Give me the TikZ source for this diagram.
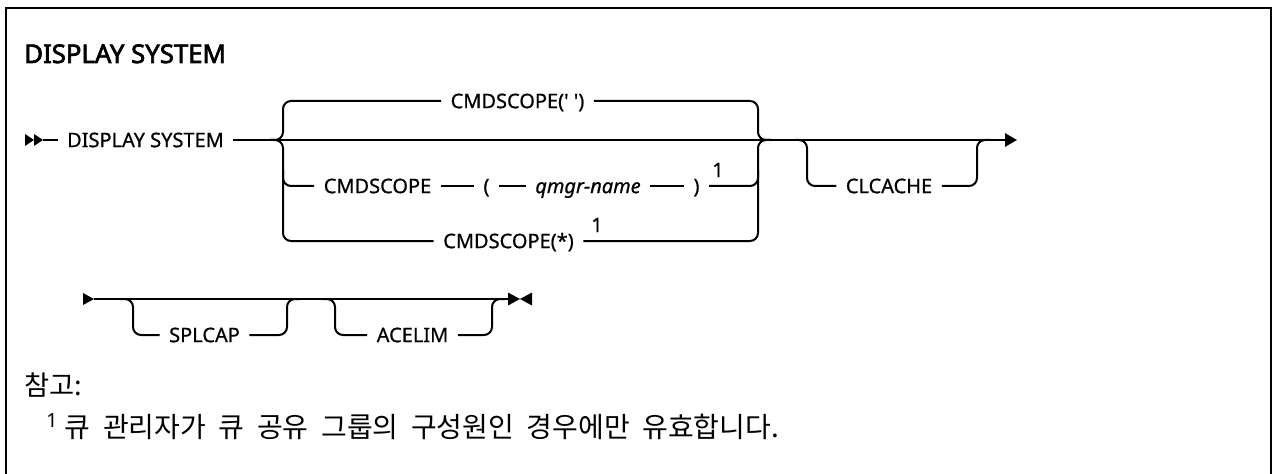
\documentclass[tikz,border=0pt]{standalone}
\usepackage{fontspec}
\setmainfont{Noto Sans}
\newfontfamily\titlefont{Noto Sans}[FakeBold=2.6]
\newfontfamily\railfont{Noto Sans}[FakeBold=0.7]
\newfontfamily\kr{Noto Sans CJK KR}
\usetikzlibrary{arrows.meta}
\begin{document}
\begin{tikzpicture}[x=0.75pt,y=-0.75pt,
  rail/.style={line width=1.5pt,rounded corners=6pt},
  kw/.style={inner xsep=7pt,inner ysep=0pt,text height=10.7pt,text depth=0pt,font=\fontsize{15}{18}\railfont},
  var/.style={kw,font=\fontsize{15}{18}\railfont\itshape},
  supn/.style={inner sep=0pt,font=\fontsize{15}{18}\railfont},
  tip/.style={fill=black}]
\useasboundingbox (0,0) rectangle (1274,474);
% frame
\draw[line width=2pt] (6,480) -- (6,8) -- (1271,8) -- (1271,480);
% title
\node[anchor=base west,inner sep=0pt,font=\fontsize{19.3}{23}\titlefont] (title) at (24,63) {DISPLAY SYSTEM};

% ---------- first line ----------
\coordinate (s0) at (43,140);
\fill[tip] (25,134) -- (34,140) -- (25,146) -- cycle;
\fill[tip] (34,134) -- (43,140) -- (34,146) -- cycle;
\node[kw] (ds) at (145.5,140) {DISPLAY SYSTEM};
\coordinate (e1) at (1017,140);
\draw[rail] (s0) -- (ds.west);
\draw[line width=1.5pt,-{Triangle[length=9pt,width=10pt]}] (ds.east) -- (e1);

% choice group
\node[kw] (t1) at (517.5,101) {CMDSCOPE(' ')};
\node[kw] (c2) at (377.5,186) {CMDSCOPE};
\node[kw] (lp) at (486.5,186) {(};
\node[var] (qm) at (588,186) {qmgr-name};
\node[kw] (rp) at (696.5,186) {)};
\node[supn] (n1) at (718,170) {1};
\node[kw] (c3) at (508.5,241) {CMDSCOPE(*)};
\node[supn] (n2) at (597,225) {1};

\coordinate (jL) at (283,140);
\coordinate (jR) at (758,140);
\draw[rail] (270,140) -- (jL) -- (283,101) -- (t1.west);
\draw[rail] (t1.east) -- (758,101) -- (jR) -- (771,140);
\draw[rail] (270,140) -- (jL) -- (283,241) -- (c3.west);
\draw[rail] (c3.east) -- (758,241) -- (jR) -- (771,140);
\draw[rail] (283,170) -- (283,186) -- (c2.west);
\draw[rail] (c2.east) -- (lp.west);
\draw[rail] (lp.east) -- (qm.west);
\draw[rail] (qm.east) -- (rp.west);
\draw[rail] (rp.east) -- (758,186) -- (758,170);

% CLCACHE
\node[kw] (cl) at (889,186) {CLCACHE};
\draw[rail] (795,140) -- (807,140) -- (807,186) -- (cl.west);
\draw[rail] (cl.east) -- (977,186) -- (977,140) -- (990,140);

% ---------- second line ----------
\coordinate (s1) at (94,299);
\coordinate (e2) at (508,299);
\fill[tip] (83,293) -- (94,299) -- (83,305) -- cycle;
\draw[line width=1.5pt] (s1) -- (e2);
\fill[tip] (508,292.5) -- (520,299) -- (508,305.5) -- cycle;
\fill[tip] (532,292.5) -- (520,299) -- (532,305.5) -- cycle;

\node[kw] (sp) at (204.5,335) {SPLCAP};
\draw[rail] (120,299) -- (133,299) -- (133,335) -- (sp.west);
\draw[rail] (sp.east) -- (287,335) -- (287,299) -- (300,299);

\node[kw] (ac) at (412.5,335) {ACELIM};
\draw[rail] (322,299) -- (335,299) -- (335,335) -- (ac.west);
\draw[rail] (ac.east) -- (492,335) -- (492,299) -- (505,299);

% ---------- notes ----------
\node[anchor=west,inner sep=0pt,font=\fontsize{20.5}{25}\selectfont\kr] (nt) at (24,385) {참고:};
\node[anchor=west,inner sep=0pt,font=\fontsize{21}{25}\selectfont] (fn) at (46,427) {\textsuperscript{1}\hspace{5pt}{\kr\spaceskip=0.45em 큐 관리자가 큐 공유 그룹의 구성원인 경우에만 유효합니다.}};
\end{tikzpicture}
\end{document}
